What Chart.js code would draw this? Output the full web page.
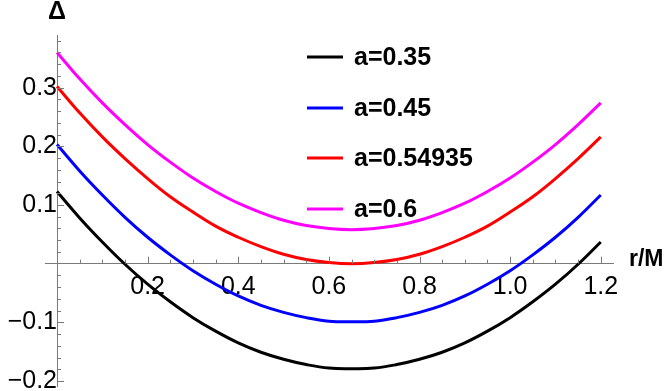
<!DOCTYPE html>
<html>
<head>
<meta charset="utf-8">
<script src="https://cdn.jsdelivr.net/npm/chart.js@4/dist/chart.umd.min.js"></script>
<style>
  html, body { margin: 0; padding: 0; background: #fff; }
  #wrap { width: 664px; height: 391px; }
</style>
</head>
<body>
<div id="wrap"><canvas id="myChart"></canvas></div>
<script>
// r/M sample points and Delta
const rVals = [0, 0.05, 0.1, 0.15, 0.2, 0.25, 0.3, 0.35, 0.4, 0.45, 0.5, 0.55, 0.6,
               0.65, 0.7, 0.75, 0.8, 0.85, 0.9, 0.95, 1.0, 1.05, 1.1, 1.15, 1.2];
const delta035 = [0.123, 0.078, 0.037, -0.001, -0.035, -0.065, -0.092, -0.115, -0.135, -0.151, -0.163, -0.172, -0.178,
                  -0.179, -0.178, -0.172, -0.163, -0.151, -0.135, -0.115, -0.092, -0.065, -0.035, -0.001, 0.037];
const delta045 = [0.203, 0.158, 0.117, 0.079, 0.045, 0.015, -0.012, -0.035, -0.055, -0.071, -0.083, -0.092, -0.098,
                  -0.099, -0.098, -0.092, -0.083, -0.071, -0.055, -0.035, -0.012, 0.015, 0.045, 0.079, 0.117];
const delta054935 = [0.302, 0.257, 0.216, 0.179, 0.145, 0.114, 0.088, 0.064, 0.045, 0.029, 0.016, 0.007, 0.002,
                     0.000, 0.002, 0.007, 0.016, 0.029, 0.045, 0.064, 0.088, 0.114, 0.145, 0.179, 0.216];
const delta06 = [0.360, 0.315, 0.274, 0.237, 0.203, 0.173, 0.146, 0.123, 0.103, 0.087, 0.074, 0.065, 0.060,
                 0.058, 0.060, 0.065, 0.074, 0.087, 0.103, 0.123, 0.146, 0.173, 0.203, 0.237, 0.274];
const seriesLabels = ['a=0.35', 'a=0.45', 'a=0.54935', 'a=0.6'];
const seriesColors = ['#000000', '#0000ff', '#ff0000', '#ff00ff'];

const xMajor = [0.2, 0.4, 0.6, 0.8, 1.0, 1.2];
const xMinor = [0.05, 0.1, 0.15, 0.25, 0.3, 0.35, 0.45, 0.5, 0.55, 0.65, 0.7, 0.75, 0.85, 0.9, 0.95, 1.05, 1.1, 1.15];
const yMajor = [-0.2, -0.1, 0.1, 0.2, 0.3];
const yMinor = [-0.18, -0.16, -0.14, -0.12, -0.08, -0.06, -0.04, -0.02, 0.02, 0.04, 0.06, 0.08,
                0.12, 0.14, 0.16, 0.18, 0.22, 0.24, 0.26, 0.28, 0.32, 0.34, 0.36, 0.38];

const axisGray = '#7a7a7a';
const tickFont = { family: '"Liberation Sans", Arial, sans-serif', size: 25 };

function fmt(v) {
  let s = v.toFixed(1);
  return v < 0 ? '\u2212' + s.slice(1) : s;
}

const allSeries = [delta035, delta045, delta054935, delta06];
const datasets = allSeries.map((arr, i) => ({
  label: seriesLabels[i],
  data: rVals.map((r, j) => ({ x: r, y: arr[j] })),
  borderColor: seriesColors[i],
  borderWidth: 3,
  pointRadius: 0,
  fill: false,
  tension: 0.4
}));

// tick marks, axis titles and the legend
const decor = {
  id: 'decor',
  afterDraw(chart) {
    const ctx = chart.ctx;
    const xs = chart.scales.x, ys = chart.scales.y;
    const x0 = xs.getPixelForValue(0), y0 = ys.getPixelForValue(0);
    ctx.save();
    ctx.strokeStyle = axisGray;
    ctx.lineWidth = 1;
    ctx.beginPath();
    xMajor.forEach(v => { const px = Math.round(xs.getPixelForValue(v)) + 0.5; ctx.moveTo(px, y0); ctx.lineTo(px, y0 - 7); });
    xMinor.forEach(v => { const px = Math.round(xs.getPixelForValue(v)) + 0.5; ctx.moveTo(px, y0); ctx.lineTo(px, y0 - 4); });
    yMajor.forEach(v => { const py = Math.round(ys.getPixelForValue(v)) + 0.5; ctx.moveTo(x0, py); ctx.lineTo(x0 + 7, py); });
    yMinor.forEach(v => { const py = Math.round(ys.getPixelForValue(v)) + 0.5; ctx.moveTo(x0, py); ctx.lineTo(x0 + 4, py); });
    ctx.stroke();

    ctx.fillStyle = '#000';
    ctx.textBaseline = 'middle';
    ctx.textAlign = 'center';
    ctx.font = 'bold 25px "Liberation Sans", Arial, sans-serif';
    ctx.fillText('\u0394', x0, 12);
    ctx.textAlign = 'left';
    ctx.font = 'bold 23px "Liberation Sans", Arial, sans-serif';
    ctx.fillText('r/M', 629, y0 - 4);

    // legend
    const rowsY = [57, 108, 158, 209];
    ctx.font = 'bold 25px "Liberation Sans", Arial, sans-serif';
    seriesLabels.forEach((lab, i) => {
      ctx.strokeStyle = seriesColors[i];
      ctx.lineWidth = 3;
      ctx.beginPath();
      ctx.moveTo(307, rowsY[i]);
      ctx.lineTo(343, rowsY[i]);
      ctx.stroke();
      ctx.fillStyle = '#000';
      ctx.fillText(lab, 354, rowsY[i] + 1);
    });
    ctx.restore();
  }
};

new Chart(document.getElementById('myChart'), {
  type: 'line',
  data: { datasets: datasets },
  plugins: [decor],
  options: {
    responsive: true,
    maintainAspectRatio: false,
    animation: false,
    layout: { padding: { left: 45, right: 51, top: 35, bottom: 5 } },
    plugins: { legend: { display: false }, tooltip: { enabled: false } },
    scales: {
      x: {
        type: 'linear',
        position: { y: 0 },
        min: -0.0265,
        max: 1.227,
        afterBuildTicks: s => { s.ticks = xMajor.map(v => ({ value: v })); },
        afterFit: s => { s.paddingLeft = 0; s.paddingRight = 0; },
        border: { display: true, color: axisGray, width: 1 },
        grid: { drawOnChartArea: false, drawTicks: true, tickLength: 6, tickColor: 'rgba(0,0,0,0)' },
        ticks: { color: '#000', font: tickFont, padding: 2, maxRotation: 0, callback: v => fmt(v) }
      },
      y: {
        type: 'linear',
        position: { x: 0 },
        min: -0.2085,
        max: 0.3897,
        afterBuildTicks: s => { s.ticks = yMajor.map(v => ({ value: v })); },
        afterFit: s => { s.paddingTop = 0; s.paddingBottom = 0; },
        border: { display: true, color: axisGray, width: 1 },
        grid: { drawOnChartArea: false, drawTicks: true, tickLength: 6, tickColor: 'rgba(0,0,0,0)' },
        ticks: { color: '#000', font: tickFont, padding: 2, callback: v => fmt(v) }
      }
    }
  }
});
</script>
</body>
</html>
